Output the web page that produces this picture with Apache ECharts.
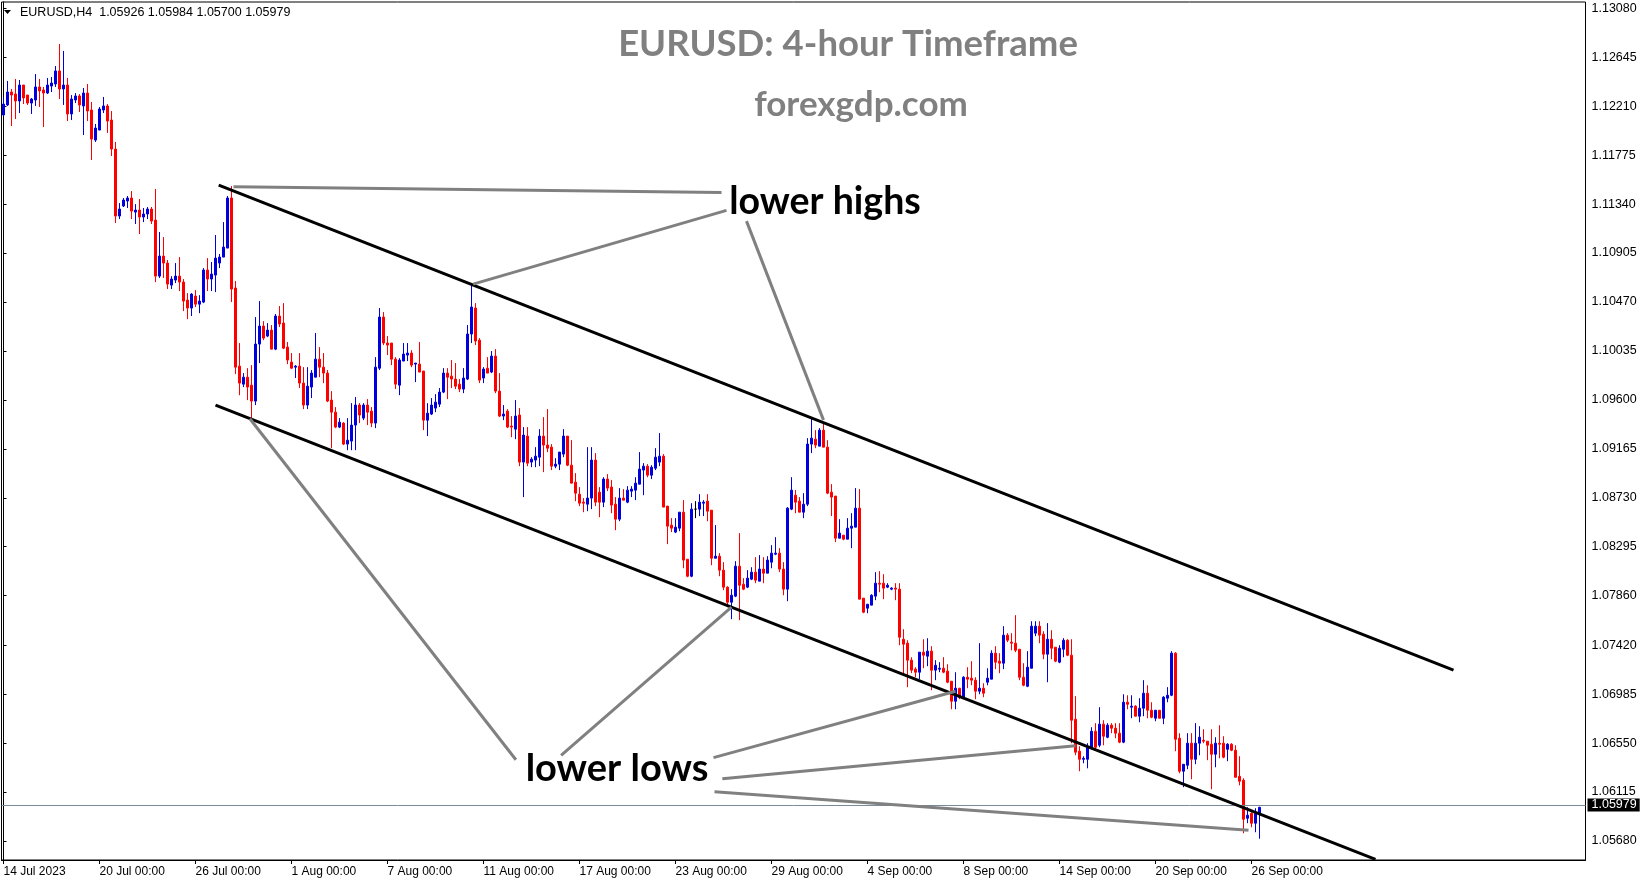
<!DOCTYPE html>
<html>
<head>
<meta charset="utf-8">
<script src="https://cdn.jsdelivr.net/npm/echarts@6/dist/echarts.min.js"></script>
<style>
html,body{margin:0;padding:0;background:#fff;}
#c{width:1649px;height:884px;}
</style>
</head>
<body>
<div id="c"></div>
<script>
// ---- data (EURUSD H4, 14 Jul 2023 -> 26 Sep 2023) ----
const tickLabels = ['14 Jul 2023','20 Jul 00:00','26 Jul 00:00','1 Aug 00:00','7 Aug 00:00','11 Aug 00:00','17 Aug 00:00','23 Aug 00:00','29 Aug 00:00','4 Sep 00:00','8 Sep 00:00','14 Sep 00:00','20 Sep 00:00','26 Sep 00:00'];
const yTickValues = [1.05680,1.06115,1.06550,1.06985,1.07420,1.07860,1.08295,1.08730,1.09165,1.09600,1.10035,1.10470,1.10905,1.11340,1.11775,1.12210,1.12645,1.13080];

const opens = [
1.12132,1.12221,1.12336,1.12318,1.12256,1.12398,1.12309,1.12238,1.12265,1.12381,
1.12354,1.12327,1.12389,1.12407,1.12523,1.12363,1.12398,1.12141,1.12265,1.12301,
1.12212,1.12327,1.12176,1.11909,1.11998,1.12176,1.12212,1.12087,1.11829,1.11234,
1.11323,1.11367,1.11394,1.11269,1.11287,1.11225,1.11252,1.11296,1.11198,1.10700,
1.10878,1.10816,1.10620,1.10665,1.10700,1.10647,1.10487,1.10416,1.10523,1.10451,
1.10469,1.10754,1.10674,1.10709,1.10816,1.10869,1.10949,1.11394,1.10594,1.09900,
1.09740,1.09802,1.09731,1.09589,1.10096,1.10256,1.10167,1.10220,1.10051,1.10345,
1.10283,1.10069,1.09936,1.09891,1.09900,1.09749,1.09554,1.09714,1.09802,1.09962,
1.09891,1.09838,1.09598,1.09491,1.09358,1.09394,1.09207,1.09234,1.09376,1.09554,
1.09438,1.09554,1.09500,1.09394,1.09882,1.10336,1.10105,1.10105,1.09962,1.09731,
1.09945,1.09998,1.10016,1.09918,1.09918,1.09856,1.09420,1.09474,1.09527,1.09562,
1.09669,1.09838,1.09811,1.09785,1.09740,1.09696,1.09785,1.10185,1.10416,1.10131,
1.09794,1.09882,1.09847,1.09989,1.09678,1.09456,1.09500,1.09367,1.09340,1.09465,
1.09047,1.09278,1.09047,1.09065,1.09091,1.09278,1.09198,1.09180,1.09011,1.09029,
1.09118,1.09278,1.09020,1.08869,1.08762,1.08691,1.08673,1.08727,1.09065,1.08780,
1.08691,1.08896,1.08825,1.08673,1.08540,1.08727,1.08691,1.08789,1.08798,1.08851,
1.08976,1.09011,1.08931,1.08993,1.09047,1.09100,1.08656,1.08487,1.08425,1.08460,
1.08602,1.08184,1.08033,1.08629,1.08629,1.08682,1.08700,1.08620,1.08193,1.08211,
1.08087,1.07936,1.07802,1.07856,1.08122,1.07962,1.07936,1.08007,1.08069,1.07989,
1.08096,1.08060,1.08158,1.08229,1.08238,1.08096,1.07918,1.08629,1.08753,1.08700,
1.08602,1.08673,1.09207,1.09251,1.09189,1.09331,1.09180,1.08780,1.08745,1.08371,
1.08398,1.08362,1.08460,1.08469,1.08638,1.07838,1.07749,1.07776,1.07856,1.07971,
1.07971,1.07936,1.07918,1.07927,1.07918,1.07473,1.07438,1.07287,1.07207,1.07180,
1.07358,1.07322,1.07367,1.07198,1.07207,1.07215,1.07189,1.07100,1.06922,1.07038,
1.06958,1.07135,1.07127,1.07109,1.07011,1.07038,1.07091,1.07118,1.07349,1.07278,
1.07260,1.07509,1.07447,1.07438,1.07384,1.07135,1.07055,1.07215,1.07527,1.07589,
1.07518,1.07340,1.07473,1.07402,1.07269,1.07384,1.07464,1.07331,1.06762,1.06478,
1.06406,1.06406,1.06513,1.06655,1.06531,1.06718,1.06602,1.06709,1.06682,1.06638,
1.06558,1.06913,1.06869,1.06878,1.06789,1.06860,1.06993,1.06842,1.06771,1.06842,
1.06771,1.06949,1.06975,1.07349,1.06593,1.06300,1.06353,1.06549,1.06406,1.06549,
1.06575,1.06567,1.06540,1.06451,1.06549,1.06549,1.06495,1.06540,1.06486,1.06255,
1.06220,1.05882,1.05926,1.05838,1.05926
];
const closes = [
1.12229,1.12336,1.12309,1.12256,1.12398,1.12283,1.12238,1.12274,1.12381,1.12345,
1.12327,1.12398,1.12416,1.12523,1.12363,1.12398,1.12141,1.12274,1.12301,1.12221,
1.12327,1.12167,1.11918,1.12016,1.12185,1.12212,1.12078,1.11829,1.11234,1.11296,
1.11376,1.11394,1.11278,1.11287,1.11225,1.11252,1.11296,1.11189,1.10700,1.10878,
1.10816,1.10629,1.10674,1.10700,1.10647,1.10478,1.10416,1.10540,1.10451,1.10478,
1.10754,1.10674,1.10718,1.10860,1.10869,1.10958,1.11394,1.10585,1.09891,1.09749,
1.09802,1.09714,1.09589,1.10096,1.10256,1.10149,1.10220,1.10051,1.10345,1.10274,
1.10060,1.09954,1.09882,1.09900,1.09749,1.09554,1.09722,1.09838,1.09962,1.09891,
1.09838,1.09589,1.09491,1.09358,1.09402,1.09207,1.09242,1.09376,1.09554,1.09465,
1.09554,1.09491,1.09394,1.09891,1.10336,1.10105,1.10087,1.09962,1.09740,1.09954,
1.10007,1.10016,1.09909,1.09927,1.09847,1.09420,1.09482,1.09554,1.09580,1.09669,
1.09838,1.09802,1.09785,1.09722,1.09696,1.09794,1.10185,1.10425,1.10123,1.09776,
1.09874,1.09838,1.09989,1.09678,1.09456,1.09474,1.09358,1.09358,1.09456,1.09047,
1.09287,1.09038,1.09073,1.09100,1.09278,1.09198,1.09171,1.09011,1.09029,1.09136,
1.09278,1.09020,1.08860,1.08771,1.08682,1.08682,1.08727,1.09065,1.08691,1.08691,
1.08896,1.08816,1.08665,1.08540,1.08727,1.08709,1.08798,1.08807,1.08860,1.08985,
1.09011,1.08931,1.09002,1.09091,1.09100,1.08647,1.08478,1.08460,1.08469,1.08602,
1.08176,1.08033,1.08629,1.08629,1.08691,1.08691,1.08611,1.08193,1.08211,1.08087,
1.07936,1.07802,1.07864,1.08122,1.07953,1.07918,1.08016,1.08069,1.07998,1.08096,
1.08060,1.08176,1.08238,1.08238,1.08096,1.07918,1.08638,1.08798,1.08691,1.08602,
1.08673,1.09207,1.09260,1.09198,1.09331,1.09180,1.08771,1.08736,1.08371,1.08416,
1.08362,1.08460,1.08478,1.08638,1.07829,1.07713,1.07784,1.07864,1.07971,1.07962,
1.07927,1.07953,1.07927,1.07918,1.07491,1.07429,1.07287,1.07198,1.07180,1.07358,
1.07331,1.07367,1.07198,1.07242,1.07215,1.07180,1.07091,1.06922,1.07038,1.06958,
1.07135,1.07118,1.07109,1.07011,1.07038,1.06993,1.07127,1.07349,1.07269,1.07260,
1.07509,1.07464,1.07438,1.07375,1.07135,1.07064,1.07224,1.07589,1.07589,1.07509,
1.07340,1.07473,1.07393,1.07278,1.07393,1.07464,1.07331,1.06753,1.06469,1.06406,
1.06415,1.06513,1.06655,1.06513,1.06718,1.06611,1.06709,1.06682,1.06638,1.06558,
1.06913,1.06895,1.06878,1.06789,1.06860,1.06993,1.06842,1.06780,1.06842,1.06771,
1.06958,1.06975,1.07349,1.06584,1.06300,1.06362,1.06549,1.06406,1.06549,1.06602,
1.06567,1.06531,1.06451,1.06549,1.06540,1.06424,1.06540,1.06486,1.06246,1.06211,
1.05873,1.05909,1.05838,1.05926,1.05979
];
const lows = [
1.12123,1.12212,1.12034,1.12096,1.12149,1.12229,1.12221,1.12141,1.12212,1.12203,
1.12025,1.12318,1.12336,1.12381,1.12274,1.12221,1.12078,1.12087,1.12238,1.12158,
1.11954,1.12078,1.11732,1.11892,1.11998,1.12149,1.11972,1.11767,1.11172,1.11207,
1.11314,1.11305,1.11207,1.11163,1.11074,1.11180,1.11207,1.11163,1.10647,1.10683,
1.10683,1.10585,1.10585,1.10638,1.10567,1.10389,1.10318,1.10345,1.10425,1.10371,
1.10460,1.10567,1.10567,1.10558,1.10771,1.10869,1.10949,1.10469,1.09829,1.09642,
1.09714,1.09598,1.09438,1.09554,1.09927,1.10131,1.10158,1.10051,1.10042,1.10247,
1.10051,1.09918,1.09874,1.09794,1.09705,1.09518,1.09518,1.09616,1.09802,1.09802,
1.09749,1.09580,1.09171,1.09349,1.09349,1.09198,1.09153,1.09153,1.09153,1.09394,
1.09420,1.09376,1.09358,1.09349,1.09865,1.10087,1.09998,1.09909,1.09696,1.09642,
1.09945,1.09945,1.09891,1.09758,1.09847,1.09331,1.09278,1.09465,1.09491,1.09536,
1.09660,1.09607,1.09705,1.09696,1.09669,1.09660,1.09776,1.10105,1.10087,1.09749,
1.09749,1.09838,1.09838,1.09660,1.09447,1.09420,1.09349,1.09269,1.09251,1.09011,
1.08736,1.09011,1.09002,1.09002,1.09011,1.08958,1.09136,1.08976,1.08993,1.08976,
1.09091,1.09011,1.08860,1.08700,1.08656,1.08602,1.08611,1.08629,1.08656,1.08558,
1.08647,1.08789,1.08593,1.08442,1.08522,1.08709,1.08682,1.08736,1.08709,1.08851,
1.08753,1.08913,1.08896,1.08976,1.09011,1.08647,1.08318,1.08425,1.08416,1.08433,
1.08104,1.08024,1.08024,1.08549,1.08567,1.08567,1.08522,1.08131,1.08193,1.08033,
1.07909,1.07758,1.07651,1.07847,1.07642,1.07909,1.07927,1.07998,1.07971,1.07989,
1.07971,1.08060,1.08104,1.08220,1.08069,1.07864,1.07811,1.08620,1.08593,1.08602,
1.08549,1.08656,1.09127,1.09171,1.09189,1.09180,1.08762,1.08567,1.08336,1.08371,
1.08353,1.08362,1.08282,1.08469,1.07829,1.07704,1.07704,1.07776,1.07820,1.07891,
1.07829,1.07927,1.07909,1.07820,1.07420,1.07171,1.07047,1.07171,1.07135,1.07118,
1.07215,1.07233,1.07020,1.07109,1.07180,1.07171,1.07082,1.06851,1.06851,1.06940,
1.06958,1.07038,1.07064,1.06940,1.06984,1.06958,1.07064,1.07118,1.07207,1.07171,
1.07207,1.07447,1.07375,1.07358,1.07109,1.07055,1.07047,1.07215,1.07500,1.07438,
1.07295,1.07091,1.07295,1.07269,1.07260,1.07313,1.07322,1.06549,1.06442,1.06300,
1.06371,1.06326,1.06495,1.06495,1.06513,1.06531,1.06593,1.06638,1.06593,1.06549,
1.06549,1.06851,1.06771,1.06789,1.06735,1.06789,1.06771,1.06771,1.06744,1.06771,
1.06718,1.06913,1.06967,1.06478,1.06282,1.06158,1.06318,1.06229,1.06362,1.06442,
1.06549,1.06398,1.06140,1.06335,1.06415,1.06415,1.06389,1.06478,1.06246,1.06175,
1.05749,1.05838,1.05802,1.05758,1.05700
];
const highs = [
1.12292,1.12434,1.12363,1.12452,1.12443,1.12398,1.12309,1.12283,1.12496,1.12452,
1.12381,1.12461,1.12469,1.12567,1.12763,1.12701,1.12461,1.12309,1.12327,1.12318,
1.12372,1.12407,1.12247,1.12052,1.12203,1.12292,1.12229,1.12167,1.11892,1.11349,
1.11394,1.11412,1.11456,1.11340,1.11385,1.11305,1.11314,1.11314,1.11474,1.11092,
1.11047,1.10843,1.10700,1.10816,1.10869,1.10674,1.10549,1.10549,1.10576,1.10531,
1.10771,1.10860,1.10825,1.11065,1.10896,1.11180,1.11412,1.11500,1.10656,1.10105,
1.09838,1.09882,1.09909,1.10336,1.10478,1.10300,1.10283,1.10265,1.10363,1.10434,
1.10460,1.10114,1.10016,1.09909,1.10016,1.09891,1.09891,1.09865,1.10194,1.10069,
1.10016,1.09865,1.09678,1.09536,1.09438,1.09402,1.09438,1.09571,1.09625,1.09571,
1.09571,1.09607,1.09536,1.09980,1.10416,1.10380,1.10167,1.10105,1.09980,1.09971,
1.10105,1.10105,1.10042,1.09927,1.10114,1.09856,1.09571,1.09616,1.09651,1.09705,
1.09882,1.09882,1.09954,1.09927,1.09785,1.09882,1.10265,1.10638,1.10460,1.10149,
1.09891,1.09980,1.10034,1.10051,1.09838,1.09554,1.09518,1.09456,1.09598,1.09527,
1.09358,1.09358,1.09091,1.09180,1.09340,1.09447,1.09518,1.09207,1.09082,1.09136,
1.09340,1.09278,1.09242,1.08949,1.08825,1.08727,1.09180,1.09180,1.09127,1.08825,
1.08913,1.08940,1.08887,1.08736,1.08816,1.08807,1.08833,1.08833,1.08913,1.09136,
1.09038,1.09029,1.09020,1.09171,1.09305,1.09118,1.08656,1.08549,1.08549,1.08602,
1.08709,1.08184,1.08682,1.08700,1.08762,1.08709,1.08762,1.08620,1.08487,1.08238,
1.08158,1.07944,1.07918,1.08167,1.08416,1.08016,1.08087,1.08113,1.08202,1.08220,
1.08202,1.08211,1.08309,1.08380,1.08282,1.08158,1.08647,1.08913,1.08798,1.08736,
1.08771,1.09260,1.09447,1.09331,1.09349,1.09394,1.09242,1.08851,1.08745,1.08540,
1.08398,1.08549,1.08593,1.08816,1.08807,1.07838,1.07784,1.07873,1.08069,1.08078,
1.08051,1.07971,1.07936,1.07971,1.07971,1.07562,1.07464,1.07313,1.07224,1.07358,
1.07473,1.07482,1.07411,1.07287,1.07269,1.07313,1.07251,1.07100,1.07180,1.07038,
1.07144,1.07224,1.07278,1.07135,1.07438,1.07082,1.07215,1.07375,1.07411,1.07349,
1.07589,1.07527,1.07527,1.07687,1.07384,1.07260,1.07367,1.07633,1.07633,1.07633,
1.07544,1.07616,1.07553,1.07402,1.07420,1.07482,1.07473,1.07473,1.06967,1.06522,
1.06433,1.06549,1.06691,1.06727,1.06869,1.06753,1.06727,1.06727,1.06727,1.06727,
1.06984,1.06975,1.06975,1.06887,1.06949,1.07109,1.07064,1.06913,1.06842,1.06842,
1.06967,1.07047,1.07367,1.07358,1.06638,1.06362,1.06638,1.06638,1.06727,1.06700,
1.06673,1.06567,1.06673,1.06602,1.06709,1.06611,1.06549,1.06549,1.06531,1.06433,
1.06238,1.05980,1.05935,1.05971,1.05984
];

// trend lines, in [bar index, price]
const upperChannel = [[53.8, 1.11509], [362.5, 1.07198]];
const lowerChannel = [[53.0, 1.09554], [343.0, 1.05517]];
const lowerHighsPointers = [
  [[57.5, 1.11494], [179.5, 1.11443]],
  [[117.4, 1.10629], [180.75, 1.11284]],
  [[185.75, 1.11189], [205.0, 1.09420]]
];
const lowerLowsPointers = [
  [[61.6, 1.09432], [128.1, 1.06402]],
  [[139.4, 1.06440], [182.0, 1.07758]],
  [[177.5, 1.06421], [238.0, 1.07011]],
  [[179.7, 1.06233], [268.0, 1.06527]],
  [[177.75, 1.06118], [311.25, 1.05775]]
];

// ---- build ----
const barsPerLabel = 24;
const totalSlots = 396;
const categories = Array.from({length: totalSlots}, (_, i) =>
  (i % barsPerLabel === 0 && i / barsPerLabel < tickLabels.length) ? tickLabels[i / barsPerLabel] : '');
const candles = opens.map((o, i) => [o, closes[i], lows[i], highs[i]]);
const lastClose = closes[closes.length - 1];
const showTick = (idx) => categories[idx] !== '';

const BLUE = '#0000dd', RED = '#ff0000';
const axisFont = 'Liberation Sans';

function lineSeries(data, color) {
  return {
    type: 'line', xAxisIndex: 1, yAxisIndex: 0, data: data,
    symbol: 'none', silent: true, z: 5, clip: true,
    lineStyle: {color: color, width: 3}, animation: false
  };
}

const series = [{
  type: 'candlestick',
  data: candles,
  barWidth: 2,
  z: 2,
  itemStyle: {
    color: BLUE, color0: RED, borderColor: BLUE, borderColor0: RED,
    borderColorDoji: '#000', borderWidth: 1
  },
  markLine: {
    symbol: ['none', 'none'], silent: true, animation: false,
    lineStyle: {color: '#7a8a99', width: 1, type: 'solid'},
    label: {
      show: true, position: 'end', distance: 2,
      formatter: () => lastClose.toFixed(5),
      backgroundColor: '#000', color: '#fff', fontSize: 12.5, fontFamily: axisFont,
      padding: [1, 3, 0, 4], lineHeight: 12
    },
    emphasis: {disabled: true},
    data: [{yAxis: lastClose}]
  }
},
  lineSeries(upperChannel, '#000'),
  lineSeries(lowerChannel, '#000')
];
lowerHighsPointers.forEach(p => series.push(lineSeries(p, '#808080')));
lowerLowsPointers.forEach(p => series.push(lineSeries(p, '#808080')));

const chart = echarts.init(document.getElementById('c'));
chart.setOption({
  animation: false,
  backgroundColor: '#fff',
  grid: {left: 1.5, right: 63.5, top: 2, bottom: 24, show: true, borderColor: '#000', borderWidth: 1, backgroundColor: '#fff'},
  xAxis: [{
    type: 'category', data: categories, boundaryGap: true,
    axisLine: {show: true, lineStyle: {color: '#000', width: 1}},
    axisTick: {show: true, interval: showTick, alignWithLabel: true, length: 4, lineStyle: {color: '#000'}},
    axisLabel: {interval: showTick, align: 'left', color: '#000', fontSize: 12, fontFamily: axisFont, margin: 6},
    splitLine: {show: false}
  }, {
    type: 'value', min: -0.5, max: totalSlots - 0.5, show: false
  }],
  yAxis: {
    type: 'value', position: 'right', min: 1.05511, max: 1.13136, scale: true,
    axisLine: {show: true, lineStyle: {color: '#000', width: 1}},
    axisTick: {show: true, customValues: yTickValues, length: 3, lineStyle: {color: '#000'}},
    axisLabel: {customValues: yTickValues, formatter: v => v.toFixed(5), color: '#000', fontSize: 12.5, fontFamily: axisFont, margin: 6},
    splitLine: {show: false}
  },
  series: series,
  graphic: [
    {type: 'polygon', shape: {points: [[4, 10], [11, 10], [7.5, 14]]}, style: {fill: '#000'}, z: 100},
    {type: 'text', x: 20, y: 13, z: 100, style: {text: 'EURUSD,H4  1.05926 1.05984 1.05700 1.05979', fill: '#000', font: '12.5px "Liberation Sans"', textVerticalAlign: 'middle'}},
    {type: 'text', x: 848, y: 44, z: 100, style: {text: 'EURUSD: 4-hour Timeframe', fill: '#808080', font: 'bold 36.5px Lato', textAlign: 'center', textVerticalAlign: 'middle'}},
    {type: 'text', x: 861, y: 105, z: 100, style: {text: 'forexgdp.com', fill: '#808080', font: 'bold 35px Lato', textAlign: 'center', textVerticalAlign: 'middle'}},
    {type: 'text', x: 825, y: 202, z: 100, style: {text: 'lower highs', fill: '#000', font: 'bold 37.5px Lato', textAlign: 'center', textVerticalAlign: 'middle'}},
    {type: 'text', x: 617, y: 769, z: 100, style: {text: 'lower lows', fill: '#000', font: 'bold 38px Lato', textAlign: 'center', textVerticalAlign: 'middle'}}
  ]
});
</script>
</body>
</html>
